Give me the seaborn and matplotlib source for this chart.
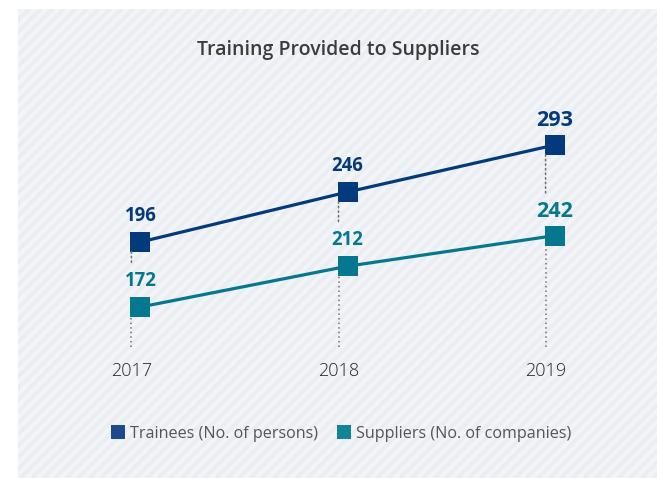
import numpy as np
import pandas as pd
import matplotlib
matplotlib.use("Agg")
import matplotlib.pyplot as plt
import matplotlib.transforms as mtransforms
from matplotlib.patches import ConnectionPatch, Rectangle
from matplotlib.lines import Line2D
import seaborn as sns

# ---- data ----
years = [2017, 2018, 2019]
trainees = [196, 246, 293]
suppliers = [172, 212, 242]
series_names = ["Trainees (No. of persons)", "Suppliers (No. of companies)"]
title = "Training Provided to Suppliers"

NAVY = "#033a7c"
TEAL = "#05788f"
NAVY_KEY = "#1c4a8b"
TEAL_KEY = "#138497"

df = pd.DataFrame({"year": years, "trainees": trainees, "suppliers": suppliers})

sns.set_theme(style="white")
plt.rcParams["font.family"] = ["Open Sans", "DejaVu Sans"]

W, H = 657, 479
fig = plt.figure(figsize=(W / 100, H / 100), dpi=100, facecolor="white")


def px_box(x0, y0, x1, y1):
    """Pixel box (top-left origin) -> figure-fraction rect."""
    return [x0 / W, 1 - y1 / H, (x1 - x0) / W, (y1 - y0) / H]


# ---- striped panel behind the chart ----
bg = fig.add_axes(px_box(18, 9, 657, 478))
bg.set_axis_off()
pw, ph = 639, 469
bg.set_xlim(0, pw)
bg.set_ylim(0, ph)
bg.add_patch(Rectangle((0, 0), pw, ph, facecolor="#f2f4f7", edgecolor="none"))
for c in np.arange(-ph, pw + 12, 11.5):
    bg.plot([c, c + ph], [0, ph], color="#eaedf1", lw=2.9, solid_capstyle="butt")

# ---- main axes: one y-scale per series ----
ax = fig.add_axes(px_box(90, 100, 587, 347))
ax.set_facecolor("none")
ax2 = ax.twinx()
ax2.set_facecolor("none")

shift = mtransforms.ScaledTranslation(9 / 100, 0, fig.dpi_scale_trans)

sns.lineplot(data=df, x="year", y="trainees", ax=ax, color=NAVY, lw=2.3,
             marker="s", markersize=13.7, markeredgewidth=0,
             transform=ax.transData + shift, zorder=3)
sns.lineplot(data=df, x="year", y="suppliers", ax=ax2, color=TEAL, lw=2.3,
             marker="s", markersize=13.7, markeredgewidth=0,
             transform=ax2.transData + shift, zorder=3)

ax.set_xlim(2016.8, 2019.2)
ax.set_ylim(91, 338)
ax2.set_ylim(132.8, 132.8 + 247 / 1.02)

for a in (ax, ax2):
    for s in a.spines.values():
        s.set_visible(False)
    a.set_yticks([])
    a.set_ylabel("")
ax.set_xlabel("")
ax.set_xticks(years)
ax.set_xticklabels([str(y) for y in years], fontsize=13, fontweight="light",
                   color="#262626")
ax.tick_params(axis="x", length=0, pad=11)

# value labels above markers; the latest year is set a size larger
for i, (yr, t, s) in enumerate(zip(years, trainees, suppliers)):
    size = 15.5 if i == len(years) - 1 else 13.4
    rise = 19 if i == len(years) - 1 else 21
    ax.annotate(str(t), xy=(yr, t), xytext=(9, rise), textcoords="offset pixels",
                ha="center", va="baseline", fontsize=size, fontweight="bold",
                color=NAVY)
    ax2.annotate(str(s), xy=(yr, s), xytext=(9, rise), textcoords="offset pixels",
                 ha="center", va="baseline", fontsize=size, fontweight="bold",
                 color=TEAL)
    # dotted guide from trainee marker down to the supplier label
    con = ConnectionPatch(xyA=(yr, t), coordsA=ax.transData,
                          xyB=(yr, s), coordsB=ax2.transData,
                          linestyle=(0, (1, 2)), color="#6f6f6f", lw=1.1,
                          shrinkA=7, shrinkB=30, zorder=1)
    ax2.add_artist(con)

# dotted guide from supplier marker down to the baseline
ax2.vlines(years, ax2.get_ylim()[0], suppliers, colors="#6f6f6f",
           linestyles=[(0, (1, 2))], lw=1.1, zorder=1)

# ---- title and legend ----
fig.text(338 / W, 1 - 50 / H, title, ha="center", va="center", fontsize=14,
         fontweight="semibold", color="#3c3c3c")

handles = [Line2D([], [], marker="s", ls="none", color=NAVY_KEY, markersize=10.5,
                  markeredgewidth=0),
           Line2D([], [], marker="s", ls="none", color=TEAL_KEY, markersize=10.5,
                  markeredgewidth=0)]
leg = fig.legend(handles, series_names, loc="center",
                 bbox_to_anchor=(340.5 / W, 1 - 434 / H), ncol=2, frameon=False,
                 fontsize=11.6, handletextpad=0.25, columnspacing=1.1,
                 handlelength=1.0)
for txt in leg.get_texts():
    txt.set_color("#555555")

fig.savefig("out.png", dpi=100, facecolor="white")
